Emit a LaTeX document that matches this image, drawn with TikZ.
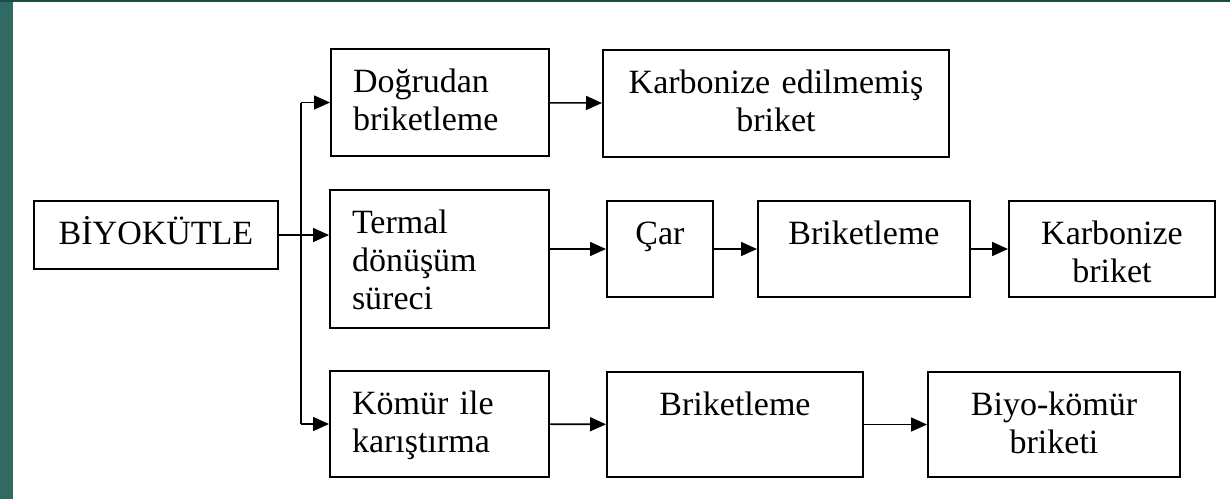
\documentclass[tikz,border=0pt]{standalone}
\usepackage{fontspec}
\setmainfont{Liberation Serif}
\usetikzlibrary{arrows.meta}
\definecolor{edgeteal}{RGB}{48,106,99}
\definecolor{topteal}{RGB}{26,76,72}
\tikzstyle{box} = [rectangle, draw, line width=1pt, anchor=north west, inner xsep=11pt, inner ysep=0pt, text height=21.5pt, font=\fontsize{17pt}{19pt}\selectfont]
\tikzstyle{arrow} = [line width=0.8pt, -{Triangle[length=8pt,width=7pt]}]

\begin{document}
\begin{tikzpicture}[x=0.5pt, y=-0.5pt]
    \useasboundingbox (0,0) rectangle (1230,499);
    \fill [white] (0,0) rectangle (1230,499);
    \fill [edgeteal] (0,0) rectangle (13,499);
    \fill [topteal] (0,0) rectangle (1230,2);
    \node [box, text width=100pt, text depth=12.5pt, align=center] at (33,200) (bio) {BİYOKÜTLE};
    \node [box, text width=87pt, text depth=32pt, align=left] at (330,48) (dog) {Doğrudan\\briketleme};
    \node [box, text width=151pt, text depth=32pt, align=center] at (602,49) (karb) {Karbonize edilmemiş\\briket};
    \node [box, text width=87.5pt, text depth=47.5pt, align=left] at (329,189) (term) {Termal\\dönüşüm\\süreci};
    \node [box, text width=31pt, text depth=26.5pt, align=center] at (606,200) (car) {Çar};
    \node [box, text width=84pt, text depth=26.5pt, align=center] at (757,200) (brik1) {Briketleme};
    \node [box, text width=81pt, text depth=26.5pt, align=center] at (1008,200) (karb2) {Karbonize\\briket};
    \node [box, text width=87.5pt, text depth=31.5pt, align=left] at (329,370) (kom) {Kömür ile\\karıştırma};
    \node [box, text width=106pt, text depth=31pt, align=center] at (606,371) (brik2) {Briketleme};
    \node [box, text width=104pt, text depth=31pt, align=center] at (927,371) (biyo) {Biyo-kömür\\briketi};
    \coordinate (split) at (301,0);
    \draw [line width=0.8pt] (split |- dog.west) -- (split |- kom.west);
    \draw [arrow] (split |- dog.west) -- (dog.west);
    \draw [arrow] (bio.east) -- (bio.east -| term.west);
    \draw [arrow] (split |- kom.west) -- (kom.west);
    \draw [arrow] (dog) -- (karb);
    \draw [arrow] (term.east |- car.west) -- (car.west);
    \draw [arrow] (car) -- (brik1);
    \draw [arrow] (brik1) -- (karb2);
    \draw [arrow] (kom) -- (brik2);
    \draw [arrow] (brik2) -- (biyo);
\end{tikzpicture}
\end{document}
